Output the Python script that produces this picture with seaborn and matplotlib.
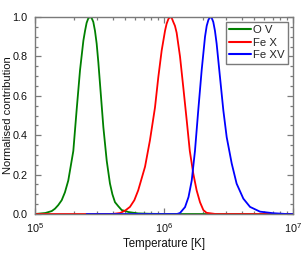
import numpy as np
import pandas as pd
import matplotlib
matplotlib.use("Agg")
import matplotlib.pyplot as plt
import seaborn as sns
from matplotlib.ticker import LogLocator, MultipleLocator, FormatStrFormatter

# ---- data (log10 T, normalised contribution) ----
series_names = ["O V", "Fe X", "Fe XV"]
series_colors = ["#008000", "#ff0000", "#0000ff"]

logT_ov = [5.00, 5.08, 5.13, 5.155, 5.18, 5.207, 5.232, 5.258, 5.297, 5.323,
           5.349, 5.375, 5.388, 5.40, 5.413, 5.426, 5.439, 5.452, 5.465, 5.478,
           5.491, 5.504, 5.53, 5.556, 5.581, 5.60, 5.62, 5.645, 5.672, 5.70,
           5.724, 5.80, 5.90, 6.0, 6.5, 7.0]
val_ov = [0.0, 0.005, 0.015, 0.027, 0.045, 0.07, 0.11, 0.17, 0.32, 0.53,
          0.73, 0.88, 0.93, 0.97, 0.993, 1.0, 0.995, 0.975, 0.93, 0.865,
          0.77, 0.66, 0.44, 0.27, 0.155, 0.10, 0.06, 0.04, 0.02, 0.015,
          0.01, 0.003, 0.001, 0.0, 0.0, 0.0]

logT_fex = [5.0, 5.6, 5.66, 5.70, 5.736, 5.77, 5.80, 5.853, 5.891, 5.93,
            5.956, 5.982, 6.008, 6.02, 6.034, 6.047, 6.06, 6.072, 6.085, 6.098,
            6.124, 6.15, 6.176, 6.20, 6.227, 6.253, 6.279, 6.305, 6.33, 6.4, 7.0]
val_fex = [0.0, 0.0, 0.005, 0.018, 0.036, 0.07, 0.12, 0.24, 0.374, 0.54,
           0.695, 0.83, 0.93, 0.965, 0.99, 1.0, 0.995, 0.975, 0.955, 0.92,
           0.80, 0.64, 0.476, 0.32, 0.205, 0.12, 0.06, 0.02, 0.006, 0.0, 0.0]

logT_fexv = [5.4, 6.10, 6.124, 6.163, 6.19, 6.215, 6.24, 6.266, 6.292, 6.318,
             6.331, 6.344, 6.357, 6.37, 6.382, 6.395, 6.408, 6.434, 6.46, 6.486,
             6.525, 6.563, 6.615, 6.667, 6.744, 6.847, 6.95, 7.0]
val_fexv = [0.0, 0.0, 0.005, 0.035, 0.086, 0.17, 0.32, 0.53, 0.73, 0.90,
            0.955, 0.985, 1.0, 0.995, 0.975, 0.93, 0.865, 0.695, 0.526, 0.39,
            0.256, 0.154, 0.078, 0.036, 0.012, 0.004, 0.0, 0.0]

x_label = "Temperature [K]"
y_label = "Normalised contribution"

frames = []
for name, lt, v in zip(series_names, [logT_ov, logT_fex, logT_fexv],
                       [val_ov, val_fex, val_fexv]):
    frames.append(pd.DataFrame({"T": 10 ** np.array(lt), "val": v, "ion": name}))
df = pd.concat(frames, ignore_index=True)

sns.set_theme(style="ticks")
plt.rcParams["font.family"] = ["Liberation Sans", "DejaVu Sans"]
plt.rcParams["mathtext.fontset"] = "custom"
plt.rcParams["mathtext.rm"] = "Liberation Sans"
plt.rcParams["mathtext.it"] = "Liberation Sans:italic"
plt.rcParams["mathtext.bf"] = "Liberation Sans:bold"

fig = plt.figure(figsize=(3.08, 2.56), dpi=100)
ax = fig.add_axes([35 / 308, 1 - 214 / 256, 258 / 308, 197 / 256])

for name, col in zip(series_names, series_colors):
    sub = df[df["ion"] == name]
    sns.lineplot(data=sub, x="T", y="val", color=col, lw=1.3, ax=ax,
                 label=name, estimator=None, sort=False)

ax.set_xscale("log")
ax.set_xlim(1e5, 1e7)
ax.set_ylim(0, 1)
ax.xaxis.set_major_locator(LogLocator(base=10, numticks=10))
ax.xaxis.set_minor_locator(LogLocator(base=10, subs=np.arange(2, 10), numticks=20))
ax.yaxis.set_major_locator(MultipleLocator(0.2))
ax.yaxis.set_minor_locator(MultipleLocator(0.05))
ax.yaxis.set_major_formatter(FormatStrFormatter("%.1f"))

tick_col = "#7a7a7a"
ax.tick_params(which="both", direction="in", top=True, right=True,
               color=tick_col, labelsize=7.8, labelcolor="#111111", width=0.9)
ax.tick_params(which="major", length=4.5)
ax.tick_params(axis="y", which="major", pad=5.5)
ax.tick_params(axis="x", which="major", pad=5.0)
ax.tick_params(which="minor", length=2.5)
for s in ax.spines.values():
    s.set_color(tick_col)
    s.set_linewidth(1.0)

ax.set_xlabel(x_label, fontsize=8.3, color="#111111", labelpad=2)
ax.set_ylabel(y_label, fontsize=8.0, color="#111111")
ax.yaxis.set_label_coords(-0.085, 0.5)

leg = ax.legend(loc="upper right", fontsize=8.2, frameon=True, fancybox=False,
                framealpha=1, edgecolor=tick_col, handlelength=1.9,
                handletextpad=0.2, labelspacing=0.22, borderpad=0.3,
                borderaxespad=0.42)
leg.get_frame().set_linewidth(1.0)
for line in leg.get_lines():
    line.set_linewidth(1.5)

fig.savefig("out.png", dpi=100)
